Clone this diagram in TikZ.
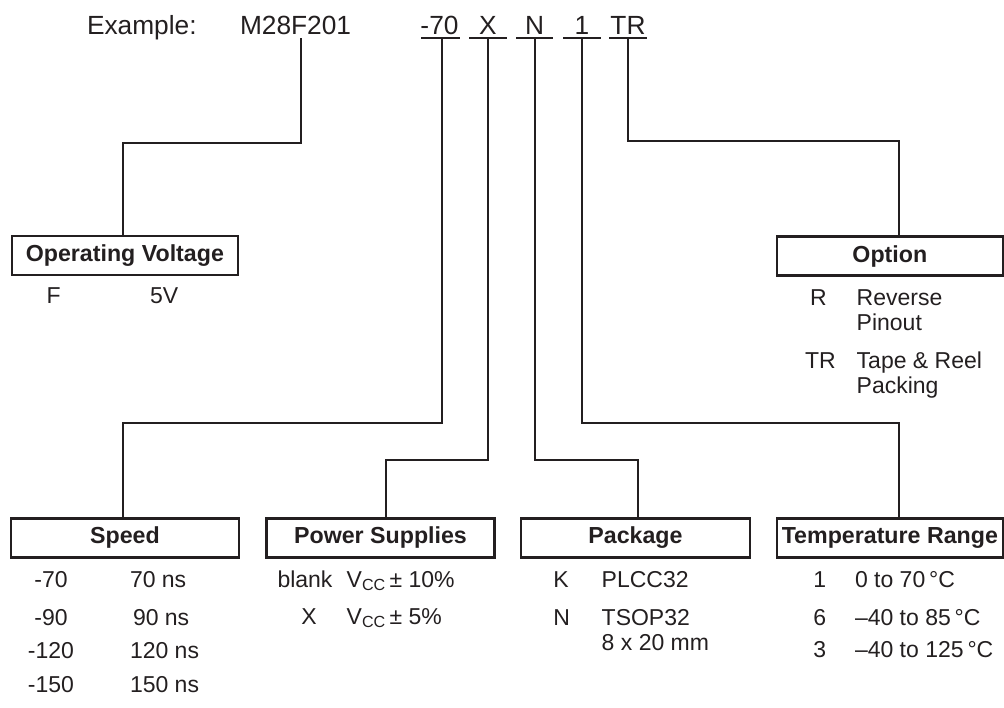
\documentclass[tikz,border=0pt]{standalone}
\usepackage{fontspec}
\setmainfont{Liberation Sans}
\definecolor{ink}{HTML}{231F20}
\begin{document}
\begin{tikzpicture}[x=1pt,y=-1pt,
  every node/.style={inner sep=0pt,outer sep=0pt,text=ink},
  hdr/.style={font=\fontsize{26.3}{30}\selectfont},
  body/.style={font=\fontsize{23}{26}\selectfont,anchor=base west},
  bodyc/.style={font=\fontsize{23}{26}\selectfont,anchor=base},
  titlebox/.style={draw=ink,line width=2.5pt,minimum width=226pt,minimum height=39pt,font=\fontsize{23.2}{26}\selectfont\bfseries},
  conn/.style={draw=ink,line width=2pt},
  uline/.style={draw=ink,line width=2.6pt}]
\useasboundingbox (0,0) rectangle (1004,707);

% header
\node[hdr,anchor=base west] (ex) at (87,34) {Example:};
\node[hdr,anchor=base west] (part) at (240,34) {M28F201};
\node[hdr,anchor=base] (c70) at (439.5,34) {-70};
\node[hdr,anchor=base] (cX) at (488,34) {X};
\node[hdr,anchor=base] (cN) at (534.7,34) {N};
\node[hdr,anchor=base] (c1) at (582,34) {1};
\node[hdr,anchor=base] (cTR) at (628,34) {TR};

\coordinate (u70) at (441.7,38);
\coordinate (uX) at (487.7,38);
\coordinate (uN) at (534.7,38);
\coordinate (u1) at (581.7,38);
\coordinate (uTR) at (628,38);
\coordinate (uM) at (300.5,38);

\draw[uline] (421,38) -- (460,38);
\draw[uline] (469,38) -- (507,38);
\draw[uline] (516,38) -- (553,38);
\draw[uline] (563,38) -- (601,38);
\draw[uline] (609,38) -- (647,38);

% boxes
\node[titlebox] (volt) at (124.85,255.5) {Operating Voltage};
\node[titlebox] (opt) at (889.85,256) {Option};
\node[titlebox,minimum width=228pt] (speed) at (125,537.8) {Speed};
\node[titlebox,minimum width=227.6pt] (pow) at (380.5,537.8) {Power Supplies};
\node[titlebox,minimum width=229pt] (pkg) at (635.5,537.8) {Package};
\node[titlebox] (temp) at (889.85,537.8) {Temperature Range};

% connectors
\draw[conn] (uM) |- (123,142.7) -- (123,0 |- volt.north);
\draw[conn] (uTR) |- (899,141) -- (899,0 |- opt.north);
\draw[conn] (u70) |- (123.3,422.7) -- (123.3,0 |- speed.north);
\draw[conn] (uX) |- (385.7,460) -- (385.7,0 |- pow.north);
\draw[conn] (uN) |- (637.7,460) -- (637.7,0 |- pkg.north);
\draw[conn] (u1) |- (899.3,422.7) -- (899.3,0 |- temp.north);

% operating voltage
\node[body] (vF) at (46.7,303) {F};
\node[body] (v5) at (150,303) {5V};

% option
\node[body] (oR) at (810,305) {R};
\node[body] (oR1) at (856.7,305) {Reverse};
\node[body] (oR2) at (856.7,330) {Pinout};
\node[body] (oTR) at (805,368) {TR};
\node[body] (oTR1) at (856.7,368) {Tape \& Reel};
\node[body] (oTR2) at (856.7,393) {Packing};

% speed
\node[bodyc] (s1) at (51,587) {-70};
\node[body] (s1v) at (130,587) {70 ns};
\node[bodyc] (s2) at (51,625) {-90};
\node[body] (s2v) at (133,625) {90 ns};
\node[bodyc] (s3) at (51,658) {-120};
\node[body] (s3v) at (130,658) {120 ns};
\node[bodyc] (s4) at (51,692) {-150};
\node[body] (s4v) at (130,692) {150 ns};

% power supplies
\node[bodyc] (p1) at (305,587) {blank};
\node[body] (p1v) at (346.7,587) {V\textsubscript{CC}\,± 10\%};
\node[bodyc] (p2) at (309,624) {X};
\node[body] (p2v) at (346.7,624) {V\textsubscript{CC}\,± 5\%};

% package
\node[body] (k1) at (553.3,587) {K};
\node[body] (k1v) at (601.7,587) {PLCC32};
\node[body] (k2) at (553.3,625) {N};
\node[body] (k2v) at (601.7,625) {TSOP32};
\node[body] (k2w) at (601.7,650) {8 x 20 mm};

% temperature
\node[body] (t1) at (813.3,587) {1};
\node[body] (t1v) at (855,587) {0 to 70\,°C};
\node[body] (t2) at (813.3,625) {6};
\node[body] (t2v) at (855,625) {–40 to 85\,°C};
\node[body] (t3) at (813.3,657) {3};
\node[body] (t3v) at (855,657) {–40 to 125\,°C};
\end{tikzpicture}
\end{document}
